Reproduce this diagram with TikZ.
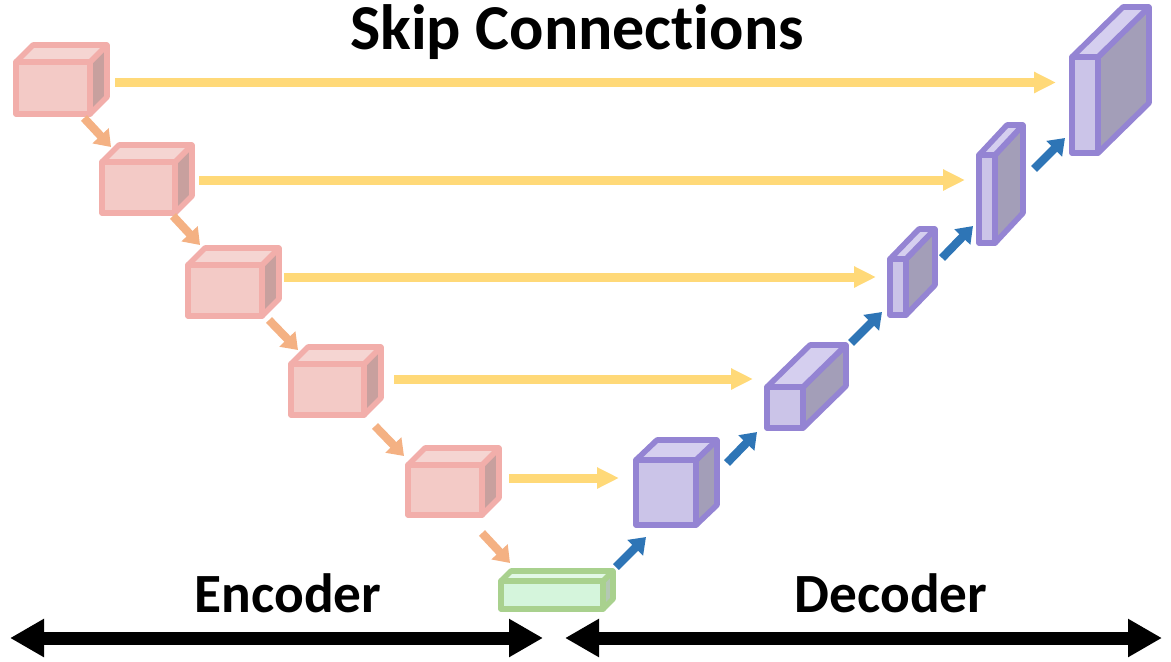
\documentclass[tikz,border=0pt]{standalone}
\usepackage{fontspec}
\setmainfont{Carlito}[Ligatures=NoCommon]
\usetikzlibrary{arrows.meta}
\definecolor{encS}{HTML}{F2AEAA}
\definecolor{encF}{HTML}{F3CAC6}
\definecolor{encT}{HTML}{F5D5D2}
\definecolor{encD}{HTML}{C8A09E}
\definecolor{decS}{HTML}{9484D3}
\definecolor{decF}{HTML}{CBC4E8}
\definecolor{decT}{HTML}{D5CFEF}
\definecolor{decD}{HTML}{A39EB8}
\definecolor{botS}{HTML}{A9D18E}
\definecolor{botF}{HTML}{D5F5DC}
\definecolor{botT}{HTML}{E2F8E6}
\definecolor{botD}{HTML}{B4C8B4}
\definecolor{skipY}{HTML}{FFD978}
\definecolor{downO}{HTML}{F4B183}
\definecolor{upB}{HTML}{2E75B6}
\newcommand\mycube[8]{%
  \path[#8 side] (#4,#3) -- ({#4+#6},{#3-#7}) -- ({#4+#6},{#5-#7}) -- (#4,#5) -- cycle;
  \path[#8 top] (#2,#3) -- ({#2+#6},{#3-#7}) -- ({#4+#6},{#3-#7}) -- (#4,#3) -- cycle;
  \path[#8 front] (#2,#3) rectangle (#4,#5);
  \coordinate (#1) at ({(#2+#4)/2},{(#3+#5)/2});
}
\begin{document}
\begin{tikzpicture}[x=0.75pt,y=-0.75pt,
  cube line/.style={line width=4.2pt, line join=round},
  enc side/.style={cube line, draw=encS, fill=encD},
  enc top/.style={cube line, draw=encS, fill=encT},
  enc front/.style={cube line, draw=encS, fill=encF},
  dec side/.style={cube line, draw=decS, fill=decD},
  dec top/.style={cube line, draw=decS, fill=decT},
  dec front/.style={cube line, draw=decS, fill=decF},
  bot side/.style={cube line, draw=botS, fill=botD},
  bot top/.style={cube line, draw=botS, fill=botT},
  bot front/.style={cube line, draw=botS, fill=botF},
  skip/.style={draw=skipY, line width=6.75pt, -{Triangle[length=16.5pt,width=15pt]}},
  down/.style={draw=downO, line width=6.2pt, -{Triangle[length=11.5pt,width=16pt]}},
  up/.style={draw=upB, line width=6.2pt, -{Triangle[length=11.5pt,width=16pt]}},
  span/.style={draw=black, line width=9.75pt, {Triangle[length=25.5pt,width=27pt]}-{Triangle[length=25.5pt,width=27pt]}},
  label/.style={font=\bfseries\fontsize{41.5pt}{41.5pt}\selectfont, anchor=base, inner sep=0pt}
]
\useasboundingbox (0,0) rectangle (1171,661);
\fill[white] (0,0) rectangle (1171,661);

% encoder cubes
\mycube{e1}{16}{62}{90}{114}{17}{17}{enc}
\mycube{e2}{102}{162}{175}{213}{17}{17}{enc}
\mycube{e3}{188}{265}{262}{316}{17}{17}{enc}
\mycube{e4}{291}{364}{364}{415}{17}{17}{enc}
\mycube{e5}{408}{465}{482}{515}{17}{17}{enc}
% bottleneck
\mycube{b}{501}{581}{603}{609}{10}{10}{bot}
% decoder cubes
\mycube{d1}{636}{460}{696}{525}{21}{20}{dec}
\mycube{d2}{767}{387}{803}{428}{43}{42}{dec}
\mycube{d3}{890}{259}{906}{315}{29}{30}{dec}
\mycube{d4}{979}{155}{995}{243}{28}{30}{dec}
\mycube{d5}{1072}{57}{1098}{153}{51}{50}{dec}

% skip connection endpoints
\coordinate (s1a) at (115,82.5);  \coordinate (s1b) at (1056,82.5);
\coordinate (s2a) at (199,180);   \coordinate (s2b) at (965,180);
\coordinate (s3a) at (284,277);   \coordinate (s3b) at (876,277);
\coordinate (s4a) at (394,379);   \coordinate (s4b) at (753,379);
\coordinate (s5a) at (509,478);   \coordinate (s5b) at (619,478);
\foreach \i in {1,...,5} {\draw[skip] (s\i a) -- (s\i b);}

% downsampling arrows
\coordinate (o1a) at (84,118);  \coordinate (o1b) at (111,147);
\coordinate (o2a) at (173,216); \coordinate (o2b) at (200,245);
\coordinate (o3a) at (269,320); \coordinate (o3b) at (298,350);
\coordinate (o4a) at (375,426); \coordinate (o4b) at (404,456);
\coordinate (o5a) at (482,533); \coordinate (o5b) at (510,563);
\foreach \i in {1,...,5} {\draw[down] (o\i a) -- (o\i b);}

% upsampling arrows
\coordinate (u1a) at (616,567);  \coordinate (u1b) at (646,537);
\coordinate (u2a) at (727,463);  \coordinate (u2b) at (757,432);
\coordinate (u3a) at (851,343);  \coordinate (u3b) at (882,312);
\coordinate (u4a) at (942,258);  \coordinate (u4b) at (973,226);
\coordinate (u5a) at (1034,169); \coordinate (u5b) at (1065,138);
\foreach \i in {1,...,5} {\draw[up] (u\i a) -- (u\i b);}

% encoder / decoder spans
\coordinate (el) at (10,638);  \coordinate (er) at (543,638);
\coordinate (dl) at (565,638); \coordinate (dr) at (1162,638);
\draw[span] (el) -- (er);
\draw[span] (dl) -- (dr);

\node[font=\bfseries\fontsize{48pt}{48pt}\selectfont, anchor=base, inner sep=0pt] (title) at (577,49) {Skip Connections};
\node[label] (enc) at (288,612) {Encoder};
\node[label] (dec) at (891,612) {Decoder};
\end{tikzpicture}
\end{document}
